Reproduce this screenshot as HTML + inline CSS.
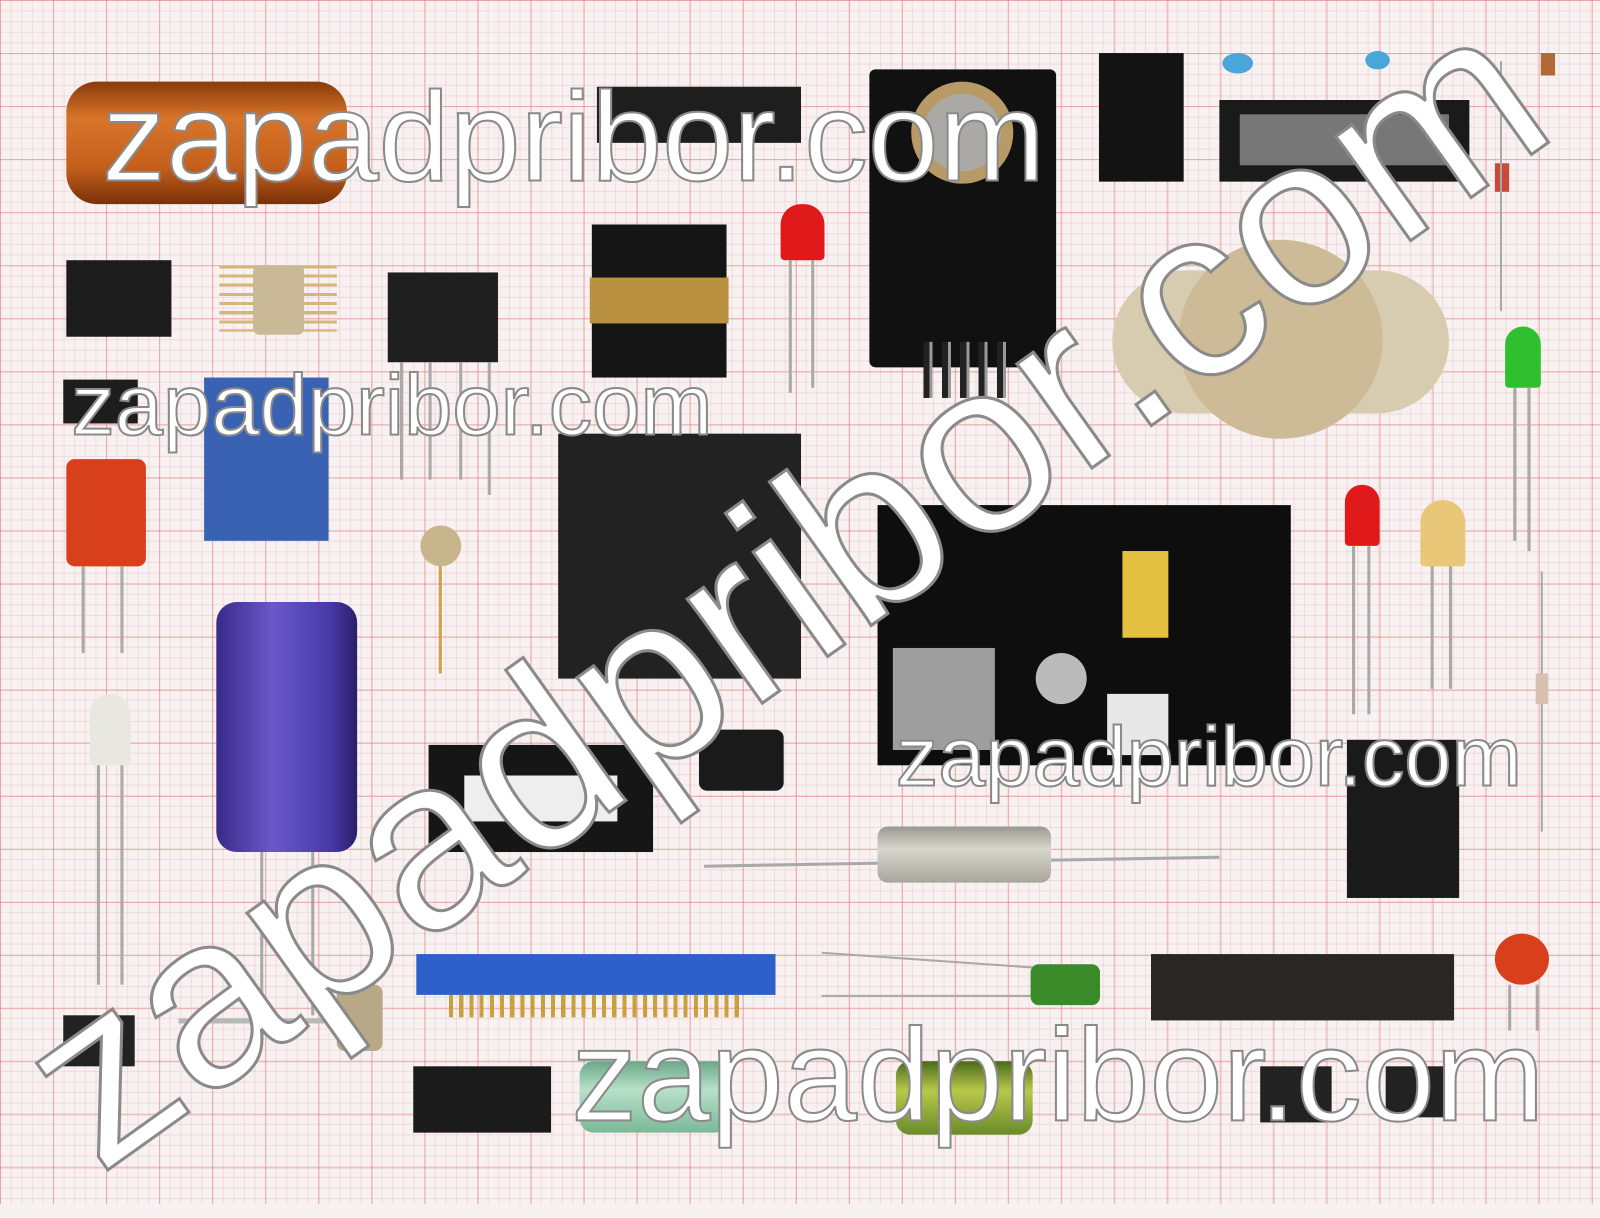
<!DOCTYPE html>
<html><head><meta charset="utf-8"><style>
html,body{margin:0;padding:0;width:1600px;height:1200px;overflow:hidden;background-color:#f7f1f1}
#w{position:absolute;left:0;top:0;width:1568px;height:1180px;transform:scale(1.0204);transform-origin:0 0;
background-color:#f7f1f1;
background-image:
linear-gradient(rgba(225,120,120,.55) 1px,transparent 1px),
linear-gradient(90deg,rgba(225,120,120,.55) 1px,transparent 1px),
linear-gradient(rgba(230,160,160,.28) 1px,transparent 1px),
linear-gradient(90deg,rgba(230,160,160,.28) 1px,transparent 1px);
background-size:52px 52px,52px 52px,10.4px 10.4px,10.4px 10.4px;}
.b{position:absolute}
.t{position:absolute;font-family:"Liberation Sans",sans-serif;color:#fff;-webkit-text-stroke:2px #8a8a8a;font-weight:400;white-space:nowrap;line-height:1}
.leg{position:absolute;width:3px;background:#a9a9a9}
</style></head><body><div id="w">
<div class="b" style="left:65px;top:80px;width:275px;height:120px;background:linear-gradient(#8a3a0a,#d8742a 30%,#c4601c 70%,#7a3008);border-radius:30px"></div>
<div class="b" style="left:585px;top:85px;width:200px;height:55px;background:#1e1e1e"></div>
<div class="b" style="left:852px;top:68px;width:183px;height:292px;background:#111;border-radius:6px"></div>
<div class="b" style="left:893px;top:80px;width:100px;height:100px;background:#b89a66;border-radius:50%"></div>
<div class="b" style="left:905px;top:92px;width:76px;height:76px;background:#aaa9a6;border-radius:50%"></div>
<div class="b" style="left:905px;top:335px;width:90px;height:55px;background:repeating-linear-gradient(90deg,#222 0 6px,#999 6px 9px,transparent 9px 18px)"></div>
<div class="b" style="left:1077px;top:52px;width:83px;height:126px;background:#131313"></div>
<div class="b" style="left:1195px;top:98px;width:245px;height:80px;background:#1a1a1a"></div>
<div class="b" style="left:1215px;top:112px;width:205px;height:50px;background:#777"></div>
<div class="b" style="left:1198px;top:52px;width:30px;height:20px;background:#4aa6d8;border-radius:50%"></div>
<div class="b" style="left:1338px;top:50px;width:24px;height:18px;background:#4aa6d8;border-radius:50%"></div>
<div class="b" style="left:1510px;top:52px;width:14px;height:22px;background:#b06a3a"></div>
<div class="b" style="left:65px;top:255px;width:103px;height:75px;background:#1c1c1c"></div>
<div class="b" style="left:215px;top:260px;width:115px;height:65px;background:repeating-linear-gradient(#d4b57a 0 3px,transparent 3px 9px)"></div>
<div class="b" style="left:248px;top:260px;width:50px;height:68px;background:#c9b996;border-radius:6px"></div>
<div class="b" style="left:380px;top:267px;width:108px;height:88px;background:#1f1f1f"></div>
<div class="leg" style="left:392px;top:355px;height:115px"></div><div class="leg" style="left:420px;top:355px;height:115px"></div><div class="leg" style="left:450px;top:355px;height:115px"></div><div class="leg" style="left:478px;top:355px;height:130px"></div>
<div class="b" style="left:580px;top:220px;width:132px;height:150px;background:#151515"></div>
<div class="b" style="left:578px;top:272px;width:136px;height:45px;background:#b89040"></div>
<div class="b" style="left:765px;top:200px;width:43px;height:55px;background:#e01a1a;border-radius:20px 20px 4px 4px"></div>
<div class="leg" style="left:773px;top:255px;height:130px"></div><div class="leg" style="left:795px;top:255px;height:125px"></div>
<div class="b" style="left:1090px;top:265px;width:330px;height:140px;background:#d8ccb0;border-radius:70px"></div>
<div class="b" style="left:1155px;top:235px;width:200px;height:195px;background:#cdbb98;border-radius:50%"></div>
<div class="b" style="left:1475px;top:320px;width:35px;height:60px;background:#2fc02f;border-radius:18px 18px 4px 4px"></div>
<div class="leg" style="left:1483px;top:380px;height:150px"></div><div class="leg" style="left:1497px;top:380px;height:160px"></div>
<div class="b" style="left:1465px;top:160px;width:14px;height:28px;background:#c84a3a"></div>
<div class="leg" style="left:1470px;top:60px;height:245px;width:2px"></div>
<div class="b" style="left:62px;top:372px;width:73px;height:43px;background:#1d1d1d"></div>
<div class="b" style="left:200px;top:370px;width:122px;height:160px;background:#3a62b2"></div>
<div class="b" style="left:65px;top:450px;width:78px;height:105px;background:#d8401c;border-radius:8px"></div>
<div class="leg" style="left:80px;top:555px;height:85px"></div><div class="leg" style="left:118px;top:555px;height:85px"></div>
<div class="b" style="left:547px;top:425px;width:238px;height:240px;background:#222"></div>
<div class="b" style="left:412px;top:515px;width:40px;height:40px;background:#c9b58c;border-radius:50%"></div>
<div class="leg" style="left:430px;top:555px;height:105px;background:#c9a24a"></div>
<div class="b" style="left:860px;top:495px;width:405px;height:255px;background:#0e0e0e"></div>
<div class="b" style="left:875px;top:635px;width:100px;height:100px;background:#9e9e9e"></div>
<div class="b" style="left:1015px;top:640px;width:50px;height:50px;background:#bbb;border-radius:50%"></div>
<div class="b" style="left:1085px;top:680px;width:60px;height:60px;background:#e8e8e8"></div>
<div class="b" style="left:1100px;top:540px;width:45px;height:85px;background:#e3c040"></div>
<div class="b" style="left:1318px;top:475px;width:34px;height:60px;background:#e01a1a;border-radius:17px 17px 4px 4px"></div>
<div class="leg" style="left:1325px;top:535px;height:165px"></div><div class="leg" style="left:1340px;top:535px;height:165px"></div>
<div class="b" style="left:1392px;top:490px;width:44px;height:65px;background:#e8c878;border-radius:22px 22px 4px 4px"></div>
<div class="leg" style="left:1402px;top:555px;height:120px"></div><div class="leg" style="left:1420px;top:555px;height:120px"></div>
<div class="b" style="left:212px;top:590px;width:138px;height:245px;background:linear-gradient(90deg,#3a2a8a,#6a58c8 40%,#4a3aa8 80%,#2a1e6a);border-radius:20px"></div>
<div class="leg" style="left:255px;top:835px;height:180px"></div><div class="leg" style="left:305px;top:835px;height:160px"></div>
<div class="b" style="left:88px;top:680px;width:40px;height:70px;background:#e8e8e0;border-radius:20px 20px 4px 4px"></div>
<div class="leg" style="left:95px;top:750px;height:215px"></div><div class="leg" style="left:118px;top:750px;height:215px"></div>
<div class="b" style="left:420px;top:730px;width:220px;height:105px;background:#161616"></div>
<div class="b" style="left:455px;top:760px;width:150px;height:45px;background:#eee"></div>
<div class="b" style="left:685px;top:715px;width:83px;height:60px;background:#1a1a1a;border-radius:8px"></div>
<div class="leg" style="left:690px;top:843px;height:3px;width:505px;transform:rotate(-1deg)"></div>
<div class="b" style="left:860px;top:810px;width:170px;height:55px;background:linear-gradient(#9a9890,#d8d6cc 40%,#a8a69c);border-radius:10px"></div>
<div class="b" style="left:1320px;top:725px;width:110px;height:155px;background:#1a1a1a"></div>
<div class="leg" style="left:1510px;top:560px;height:255px;width:2px"></div>
<div class="b" style="left:1505px;top:660px;width:12px;height:30px;background:#d8c0b0"></div>
<div class="b" style="left:408px;top:935px;width:352px;height:40px;background:#2f5fc8"></div>
<div class="b" style="left:440px;top:975px;width:290px;height:22px;background:repeating-linear-gradient(90deg,#c9a040 0 4px,transparent 4px 10px)"></div>
<div class="leg" style="left:805px;top:940px;height:2px;width:210px;transform:rotate(4deg)"></div>
<div class="leg" style="left:805px;top:975px;height:2px;width:210px"></div>
<div class="b" style="left:1010px;top:945px;width:68px;height:40px;background:#3a8a2a;border-radius:8px"></div>
<div class="b" style="left:1128px;top:935px;width:297px;height:65px;background:#2a2624"></div>
<div class="b" style="left:1465px;top:915px;width:53px;height:50px;background:#d8401c;border-radius:50%"></div>
<div class="leg" style="left:1478px;top:965px;height:45px"></div><div class="leg" style="left:1505px;top:965px;height:45px"></div>
<div class="b" style="left:62px;top:995px;width:70px;height:50px;background:#222"></div>
<div class="leg" style="left:175px;top:998px;height:5px;width:160px;background:#b8b8b8"></div>
<div class="b" style="left:330px;top:965px;width:45px;height:65px;background:#b8a888;border-radius:8px"></div>
<div class="b" style="left:405px;top:1045px;width:135px;height:65px;background:#1b1b1b"></div>
<div class="b" style="left:568px;top:1040px;width:147px;height:70px;background:linear-gradient(#6aa888,#b8e0c8 40%,#7ab898);border-radius:14px"></div>
<div class="b" style="left:878px;top:1040px;width:134px;height:72px;background:linear-gradient(#4a6a1a,#b8c84a 40%,#6a8a2a);border-radius:14px"></div>
<div class="b" style="left:1235px;top:1045px;width:70px;height:55px;background:#222"></div>
<div class="b" style="left:1358px;top:1045px;width:67px;height:50px;background:#222"></div>
<div class="t" style="left:100px;top:72px;font-size:125px">zapadpribor.com</div>
<div class="t" style="left:70px;top:355px;font-size:85px">zapadpribor.com</div>
<div class="t" style="left:878px;top:700px;font-size:83px">zapadpribor.com</div>
<div class="t" style="left:560px;top:990px;font-size:129px">zapadpribor.com</div>
<div class="t" style="left:120px;top:945px;font-size:238px;transform:rotate(-35.5deg);transform-origin:0 100%;-webkit-text-stroke:3px #8a8a8a">zapadpribor.com</div>
</div></body></html>
